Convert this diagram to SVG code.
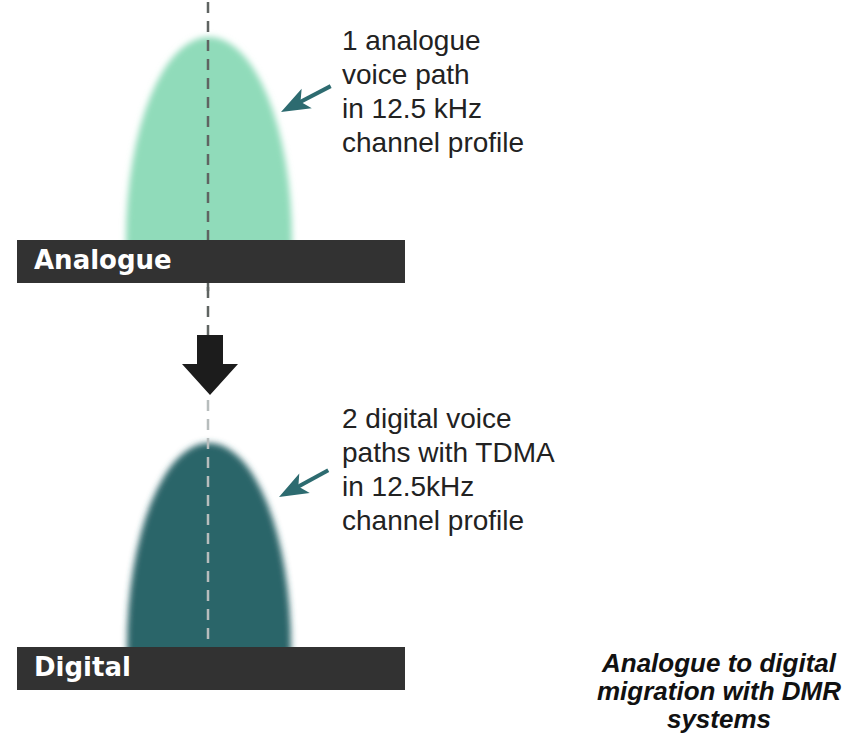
<svg xmlns="http://www.w3.org/2000/svg" width="844" height="737" viewBox="0 0 844 737">
  <style>
    .note { font-family: "Liberation Sans", Arial, sans-serif; font-size: 28px; fill: #222222; }
    .bar { fill: #323232; }
    .bar-label { font-family: "DejaVu Sans", sans-serif; font-weight: bold; font-size: 26px; fill: #ffffff; }
    .caption { font-family: "Liberation Sans", Arial, sans-serif; font-weight: bold; font-style: italic; font-size: 26px; fill: #111111; text-anchor: middle; }
  </style>
  <defs>
    <filter id="soft" x="-20%" y="-20%" width="140%" height="140%">
      <feGaussianBlur stdDeviation="3"/>
    </filter>
    <!-- teal call-out pointer, tip at the origin, pointing along +x -->
    <g id="pointer">
      <line x1="-56" y1="0" x2="-20" y2="0" stroke="#2d6b70" stroke-width="4"/>
      <path d="M0,0 L-29,-11 L-22,0 L-29,11 Z" fill="#2d6b70"/>
    </g>
  </defs>

  <rect width="844" height="737" fill="#ffffff"/>

  <!-- Analogue channel profile -->
  <g id="analogue-profile">
    <path d="M126,252 L126,240 A83,203 0 0 1 292,240 L292,252 Z" fill="#90dbba" filter="url(#soft)"/>
  </g>

  <!-- Digital channel profile -->
  <g id="digital-profile">
    <path d="M127,660 L127,647 A82,204 0 0 1 291,647 L291,660 Z" fill="#2b6569" filter="url(#soft)"/>
  </g>

  <!-- Centre axis, migration arrow and call-out pointers -->
  <g id="connectors">
    <line x1="208" y1="2" x2="208" y2="336" stroke="#5f6462" stroke-width="2.5" stroke-dasharray="11 8"/>
    <line x1="208" y1="400" x2="208" y2="648" stroke="#b7bdbd" stroke-width="2.5" stroke-dasharray="11 8"/>
    <path d="M197,335 L223,335 L223,364 L238,364 L210,395 L182,364 L197,364 Z" fill="#1c1c1c"/>
    <use href="#pointer" transform="translate(281,112) rotate(152.5)"/>
    <use href="#pointer" transform="translate(279,497) rotate(151.6)"/>
  </g>

  <!-- Band bars -->
  <g id="analogue-bar">
    <rect class="bar" x="17" y="240" width="388" height="43"/>
    <line x1="208" y1="283" x2="208" y2="291" stroke="#5f6462" stroke-width="2.5"/>
    <text class="bar-label" x="34" y="269">Analogue</text>
  </g>
  <g id="digital-bar">
    <rect class="bar" x="17" y="647" width="388" height="43"/>
    <text class="bar-label" x="34" y="676">Digital</text>
  </g>

  <!-- Annotations -->
  <g id="analogue-note">
    <text class="note" x="342" y="50">1 analogue</text>
    <text class="note" x="342" y="84">voice path</text>
    <text class="note" x="342" y="118">in 12.5 kHz</text>
    <text class="note" x="342" y="152">channel profile</text>
  </g>
  <g id="digital-note">
    <text class="note" x="342" y="428">2 digital voice</text>
    <text class="note" x="342" y="462">paths with TDMA</text>
    <text class="note" x="342" y="496">in 12.5kHz</text>
    <text class="note" x="342" y="530">channel profile</text>
  </g>

  <g id="caption">
    <text class="caption" x="719" y="672">Analogue to digital</text>
    <text class="caption" x="719" y="700">migration with DMR</text>
    <text class="caption" x="719" y="728">systems</text>
  </g>
</svg>
